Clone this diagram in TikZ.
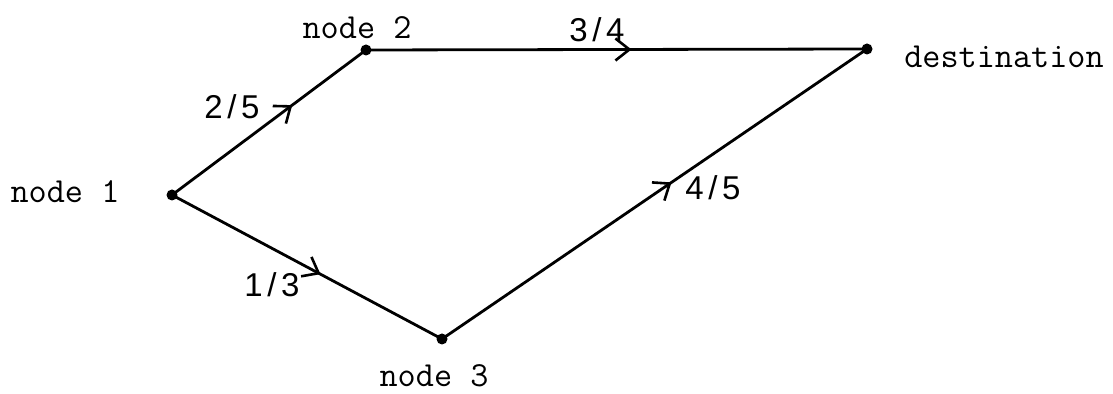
\documentclass[tikz,border=0pt]{standalone}
\usepackage{fontspec}
\newfontfamily\handfont[LetterSpace=14]{Liberation Sans}
\usetikzlibrary{arrows.meta,decorations.markings}
\tikzset{
  dot/.style={circle,fill=black,inner sep=0pt,minimum size=5.5pt},
  nlabel/.style={font=\ttfamily\fontsize{17.6}{20}\selectfont,inner sep=0pt},
  wt/.style={font=\handfont\fontsize{16.5}{20}\selectfont,inner sep=0pt},
  edge/.style={line width=1.4pt,postaction={decorate},
    decoration={markings,mark=at position #1 with {\arrow{Straight Barb[length=7pt,width=11pt,line width=1.3pt]}}}},
}
\begin{document}
\begin{tikzpicture}[x=0.5pt,y=-0.5pt]
\useasboundingbox (0,0) rectangle (1113,394);
\node[dot] (n1) at (172,195) {};
\node[dot] (n2) at (366,50) {};
\node[dot] (d) at (867,49) {};
\node[dot] (n3) at (442,339) {};
\node[nlabel] (l1) at (65,192) {node 1};
\node[nlabel] (l2) at (357,28) {node 2};
\node[nlabel] (ld) at (1004,57) {destination};
\node[nlabel] (l3) at (434,376) {node 3};
\draw[edge=0.62] (n1.center) -- (n2.center);
\draw[edge=0.53] (n2.center) -- (d.center);
\draw[edge=0.54] (n3.center) -- (d.center);
\draw[edge=0.55] (n1.center) -- (n3.center);
\node[wt] (w12) at (232,107) {2/5};
\node[wt] (w2d) at (597,30) {3/4};
\node[wt] (w3d) at (713,188) {4/5};
\node[wt] (w13) at (272,285) {1/3};
\end{tikzpicture}
\end{document}
